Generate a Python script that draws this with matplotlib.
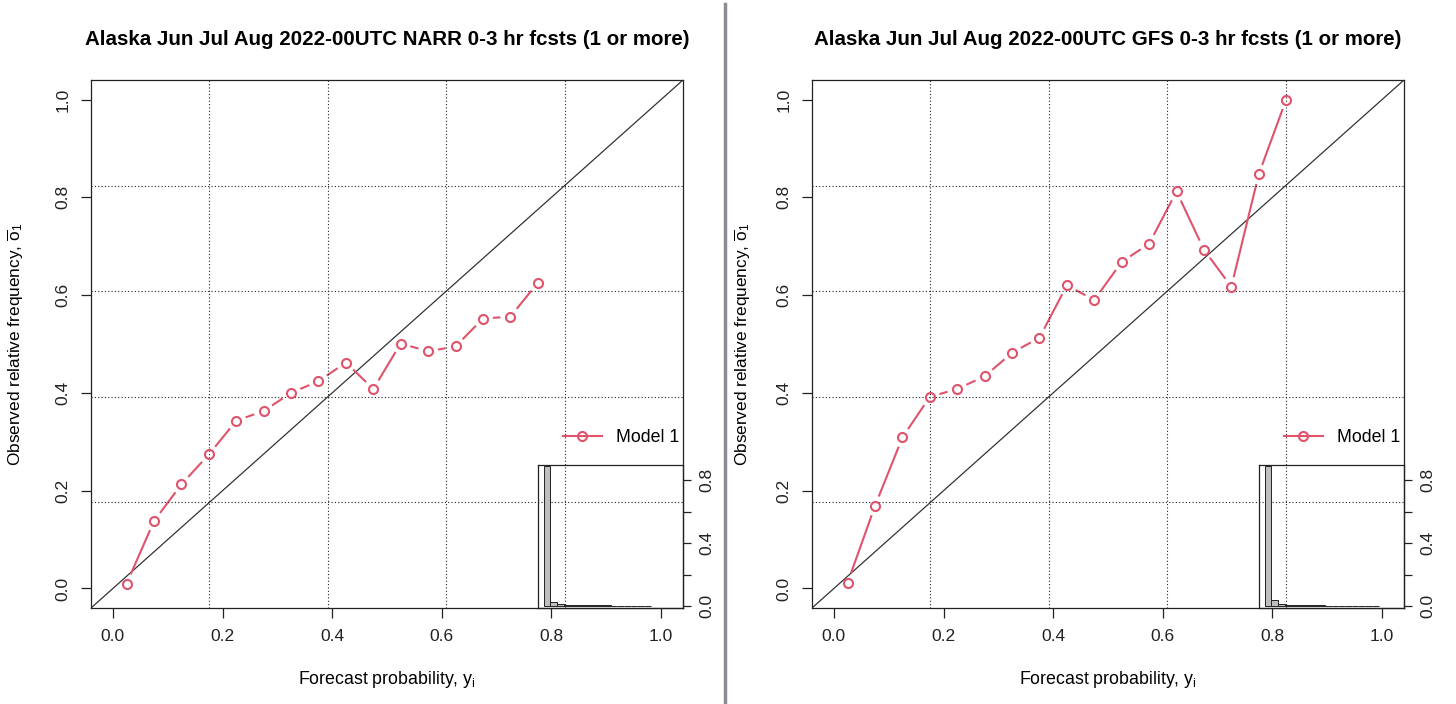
import numpy as np
import matplotlib
matplotlib.use("Agg")
import matplotlib.pyplot as plt
from matplotlib.lines import Line2D

plt.rcParams['font.family'] = ['Liberation Sans', 'DejaVu Sans']
plt.rcParams['mathtext.fontset'] = 'custom'
plt.rcParams['mathtext.rm'] = 'Liberation Sans'
plt.rcParams['mathtext.it'] = 'Liberation Sans:italic'

# forecast probability bins (centres)
narr_x = [0.025, 0.075, 0.125, 0.175, 0.225, 0.275, 0.325, 0.375,
          0.425, 0.475, 0.525, 0.575, 0.625, 0.675, 0.725, 0.775]
narr_obs = [0.010, 0.138, 0.213, 0.274, 0.343, 0.363, 0.400, 0.424,
            0.462, 0.408, 0.501, 0.485, 0.495, 0.552, 0.556, 0.625]
narr_hist = [0.893, 0.028, 0.014, 0.009, 0.007, 0.006, 0.005, 0.005,
             0.004, 0.004, 0.003, 0.003, 0.003, 0.002, 0.002, 0.001]

gfs_x = [0.025, 0.075, 0.125, 0.175, 0.225, 0.275, 0.325, 0.375, 0.425,
         0.475, 0.525, 0.575, 0.625, 0.675, 0.725, 0.775, 0.825]
gfs_obs = [0.012, 0.169, 0.309, 0.392, 0.408, 0.434, 0.482, 0.513, 0.620,
           0.590, 0.668, 0.705, 0.812, 0.693, 0.617, 0.847, 1.000]
gfs_hist = [0.893, 0.040, 0.015, 0.009, 0.007, 0.006, 0.005, 0.004, 0.004,
            0.003, 0.003, 0.003, 0.002, 0.002, 0.002, 0.001, 0.001]

titles = ["Alaska Jun Jul Aug 2022-00UTC NARR 0-3 hr fcsts (1 or more)",
          "Alaska Jun Jul Aug 2022-00UTC GFS 0-3 hr fcsts (1 or more)"]

ticks = [0.0, 0.2, 0.4, 0.6, 0.8, 1.0]
tick_labels = ["0.0", "0.2", "0.4", "0.6", "0.8", "1.0"]
hist_ticks = [0.0, 0.2, 0.4, 0.6, 0.8]
hist_labels = ["0.0", "", "0.4", "", "0.8"]

RED = '#DF536B'
W, H = 1456, 704
fig = plt.figure(figsize=(W / 100, H / 100), dpi=100)


def gapped_line(ax, xs, ys, gap_px=10.0):
    # emulate R type="b": line segments stop short of the points
    pts = ax.transData.transform(np.column_stack([xs, ys]))
    inv = ax.transData.inverted()
    for p0, p1 in zip(pts[:-1], pts[1:]):
        d = p1 - p0
        n = np.hypot(*d)
        if n <= 2 * gap_px:
            continue
        u = d / n
        a = inv.transform(p0 + u * gap_px)
        b = inv.transform(p1 - u * gap_px)
        ax.plot([a[0], b[0]], [a[1], b[1]], color=RED, lw=1.5, solid_capstyle='butt')


def panel(rect, title, xs, obs, hist, ylab_x):
    ax = fig.add_axes(rect)
    ax.set_xlim(-0.04, 1.04)
    ax.set_ylim(-0.04, 1.04)
    for s in ax.spines.values():
        s.set_linewidth(0.9)
        s.set_color('#222222')

    for g in np.linspace(-0.04, 1.04, 6)[1:-1]:
        ax.axvline(g, color='#222222', lw=0.8, ls=(0, (1, 2)), zorder=3)
        ax.axhline(g, color='#222222', lw=0.8, ls=(0, (1, 2)), zorder=3)

    ax.plot([-0.04, 1.04], [-0.04, 1.04], color='#333333', lw=0.9)
    gapped_line(ax, xs, obs)
    ax.plot(xs, obs, 'o', mfc='none', mec=RED, ms=6.5, mew=1.5, zorder=4)

    ax.set_xticks(ticks)
    ax.set_xticklabels(tick_labels)
    ax.set_yticks(ticks)
    ax.set_yticklabels(tick_labels, rotation=90, va='center')
    ax.tick_params(direction='out', length=7, width=0.9, labelsize=12.5,
                   colors='#222222', pad=8)

    ax.set_title(title, fontweight='bold', fontsize=14.8, pad=25)
    ax.set_xlabel(r"Forecast probability, y$_\mathrm{i}$", fontsize=12.8)
    ax.set_ylabel(r"Observed relative frequency, $\overline{\mathrm{o}}_1$", fontsize=12.4)
    ax.xaxis.set_label_coords(0.5, -0.115)
    ax.yaxis.set_label_coords(ylab_x, 0.5)

    handle = Line2D([], [], color=RED, lw=1.5, marker='o', mfc='none', mec=RED,
                    ms=6.5, mew=1.5)
    ax.legend([handle], ["Model 1"], loc='center', bbox_to_anchor=(0.895, 0.322),
              frameon=False, fontsize=12.8, handlelength=2.2, handletextpad=0.8)

    ins = ax.inset_axes([0.7556, 0.0, 0.2444, 0.27])
    ins.patch.set_alpha(0)
    ins.bar(xs, hist, width=0.05, align='center', color='#BEBEBE',
            edgecolor='#222222', lw=0.7)
    ins.set_xlim(-0.04, 1.04)
    ins.set_ylim(-0.012, 0.895)
    ins.set_xticks([])
    ins.yaxis.tick_right()
    ins.set_yticks(hist_ticks)
    ins.set_yticklabels(hist_labels, rotation=90, va='center')
    ins.tick_params(direction='out', length=6, width=0.9, labelsize=12.5,
                    colors='#222222', pad=6)
    for s in ins.spines.values():
        s.set_linewidth(0.9)
        s.set_color('#222222')
    return ax


panel([91 / W, 1 - 608 / H, 592 / W, 528 / H], titles[0], narr_x, narr_obs, narr_hist, -0.11)
panel([812 / W, 1 - 608 / H, 592 / W, 528 / H], titles[1], gfs_x, gfs_obs, gfs_hist, -0.10)

# divider between the two screenshots
fig.add_artist(Line2D([725 / W, 725 / W], [0, 0.995], color='#8a8d96', lw=2.5))

fig.savefig("out.png", dpi=100)
